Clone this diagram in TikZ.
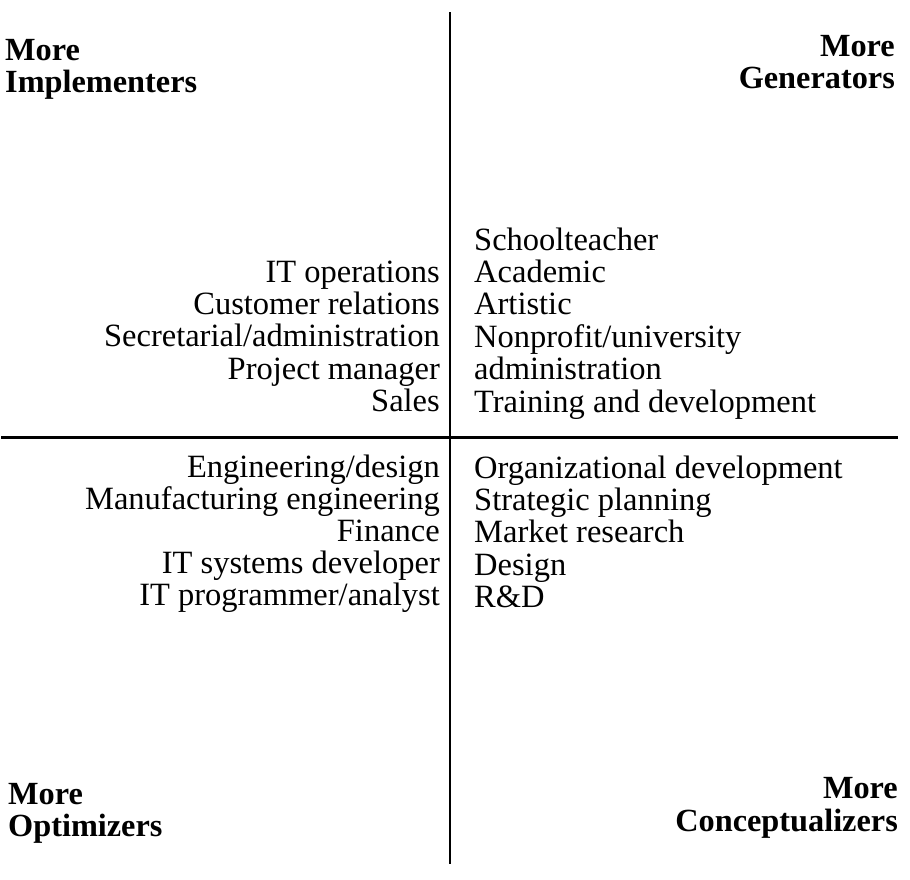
\documentclass[tikz,border=0pt]{standalone}
\usepackage{fontspec}
\setmainfont{Liberation Serif}
\begin{document}
\begin{tikzpicture}[x=1pt,y=-1pt,
  item/.style={inner sep=0pt,font=\fontsize{32.5}{32.4}\selectfont},
  corner/.style={inner sep=0pt,font=\fontsize{32.3}{32.4}\selectfont\bfseries},
  axis/.style={line width=2.6pt,black}]
\fill[white] (0,0) rectangle (910,879);
\useasboundingbox (0,0) rectangle (910,879);
% axes
\coordinate (vtop) at (450,12);
\coordinate (vbot) at (450,864);
\coordinate (hl) at (1,437.5);
\coordinate (hr) at (898,437.5);
\draw[axis] (vtop) -- (vbot);
\draw[axis] (hl) -- (hr);
% corner labels
\node[corner,anchor=base west] (tl1) at (5,60) {More};
\node[corner,anchor=base west] (tl2) at (5,92) {Implementers};
\node[corner,anchor=base east] (tr1) at (895,56) {More};
\node[corner,anchor=base east] (tr2) at (895,88) {Generators};
\node[corner,anchor=base west] (bl1) at (8,804) {More};
\node[corner,anchor=base west] (bl2) at (8,836) {Optimizers};
\node[corner,anchor=base east] (br1) at (898,798) {More};
\node[corner,anchor=base east] (br2) at (898,831) {Conceptualizers};
% upper left
\foreach \t [count=\i] in {IT operations,Customer relations,Secretarial/administration,Project manager,Sales}
  \node[item,anchor=base east] (ul\i) at (440,{282+32.4*(\i-1)}) {\t};
% upper right
\foreach \t [count=\i] in {Schoolteacher,Academic,Artistic,Nonprofit/university,administration,Training and development}
  \node[item,anchor=base west] (ur\i) at (474,{250+32.4*(\i-1)}) {\t};
% lower left
\foreach \t [count=\i] in {Engineering/design,Manufacturing engineering,Finance,IT systems developer,IT programmer/analyst}
  \node[item,anchor=base east] (ll\i) at (440,{477+32.1*(\i-1)}) {\t};
% lower right
\foreach \t [count=\i] in {Organizational development,Strategic planning,Market research,Design,R\&D}
  \node[item,anchor=base west] (lr\i) at (474,{478+32.4*(\i-1)}) {\t};
\end{tikzpicture}
\end{document}
